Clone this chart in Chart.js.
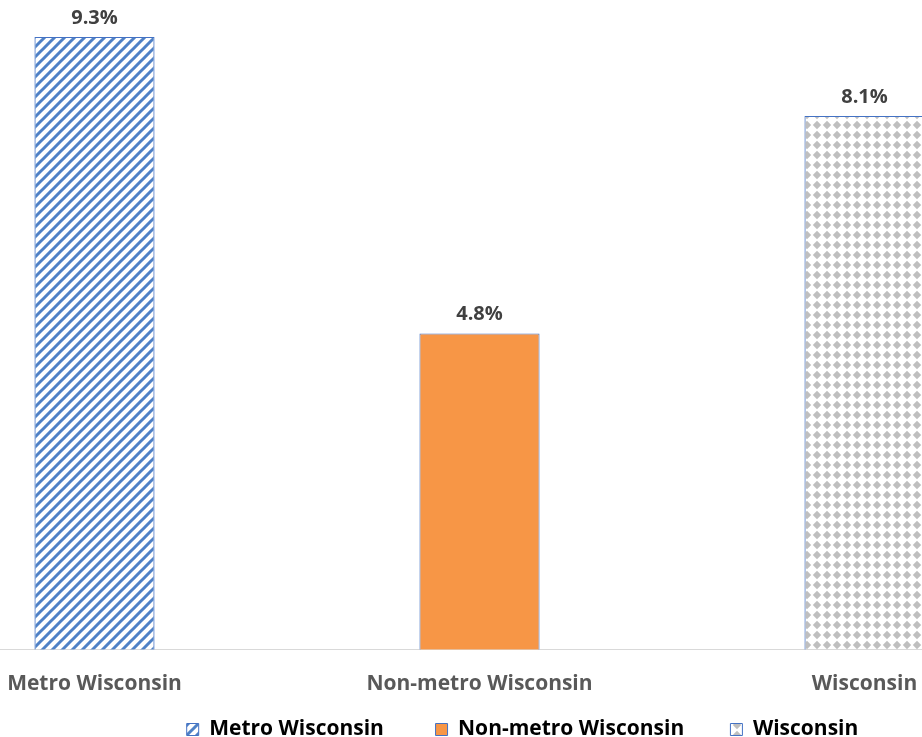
<!DOCTYPE html>
<html>
<head>
<meta charset="utf-8">
<script src="https://cdn.jsdelivr.net/npm/chart.js@4"></script>
<style>
  html, body { margin: 0; padding: 0; background: #fff; overflow: hidden; }
  #wrap { position: absolute; left: -98px; top: 0; width: 1241px; height: 737px; }
</style>
</head>
<body>
<div id="wrap"><canvas id="chart" width="1241" height="737"></canvas></div>
<script>
// Chart data
const categories = ['Metro Wisconsin', 'Non-metro Wisconsin', 'Wisconsin'];
const shares = [9.3, 4.8, 8.1];

const FONT = '"Open Sans", Lato, sans-serif';

// Fill patterns like the Excel original
function stripePattern() {
    const c = document.createElement('canvas');
    c.width = 10; c.height = 10;
    const g = c.getContext('2d');
    g.strokeStyle = '#4f81c6';
    g.lineWidth = 3;
    g.beginPath();
    g.moveTo(-2, 12); g.lineTo(12, -2);
    g.moveTo(-7, 7); g.lineTo(7, -7);
    g.moveTo(3, 17); g.lineTo(17, 3);
    g.stroke();
    return g.createPattern(c, 'repeat');
}

function diamondPattern() {
    const c = document.createElement('canvas');
    c.width = 10; c.height = 10;
    const g = c.getContext('2d');
    g.fillStyle = '#bfbfbf';
    g.beginPath();
    g.moveTo(5, 0.8); g.lineTo(9.2, 5); g.lineTo(5, 9.2); g.lineTo(0.8, 5);
    g.closePath();
    g.fill();
    return g.createPattern(c, 'repeat');
}

const fills = [stripePattern(), '#f79646', diamondPattern()];
// trailing spaces widen the gap between legend items
const legendGaps = ['        ', '       ', ''];

// value labels above bars
const valueLabels = {
    id: 'valueLabels',
    afterDatasetsDraw(chart) {
        const ctx = chart.ctx;
        const meta = chart.getDatasetMeta(0);
        ctx.save();
        ctx.font = 'bold 20px ' + FONT;
        ctx.fillStyle = '#404040';
        ctx.textAlign = 'center';
        ctx.textBaseline = 'alphabetic';
        meta.data.forEach((bar, i) => {
            ctx.fillText(shares[i].toFixed(1) + '%', bar.x, bar.y - 13);
        });
        ctx.restore();
    }
};

new Chart(document.getElementById('chart'), {
    type: 'bar',
    data: {
        labels: categories,
        datasets: [{
            data: shares,
            backgroundColor: fills,
            borderColor: '#4472c4',
            borderWidth: 1,
            categoryPercentage: 1,
            barPercentage: 0.312
        }]
    },
    options: {
        responsive: false,
        animation: false,
        layout: { padding: { top: 0, bottom: -13 } },
        scales: {
            x: {
                grid: { display: false },
                border: { color: '#d9d9d9', width: 1 },
                ticks: {
                    color: '#595959',
                    padding: 14,
                    font: { family: FONT, size: 21, weight: 'bold' }
                }
            },
            y: {
                position: 'right',
                min: 0,
                max: 9.86,
                grid: { display: false },
                border: { display: false },
                ticks: { display: false },
                afterFit(scale) { scale.width = 86; }
            }
        },
        plugins: {
            tooltip: { enabled: false },
            legend: {
                position: 'bottom',
                labels: {
                    color: '#595959',
                    boxWidth: 12,
                    boxHeight: 12,
                    padding: 8,
                    font: { family: FONT, size: 21, weight: 'bold' },
                    generateLabels() {
                        return categories.map((c, i) => ({
                            text: c + legendGaps[i],
                            fillStyle: fills[i],
                            strokeStyle: '#4472c4',
                            lineWidth: 1,
                            hidden: false,
                            index: i
                        }));
                    }
                }
            }
        }
    },
    plugins: [valueLabels]
});
</script>
</body>
</html>
